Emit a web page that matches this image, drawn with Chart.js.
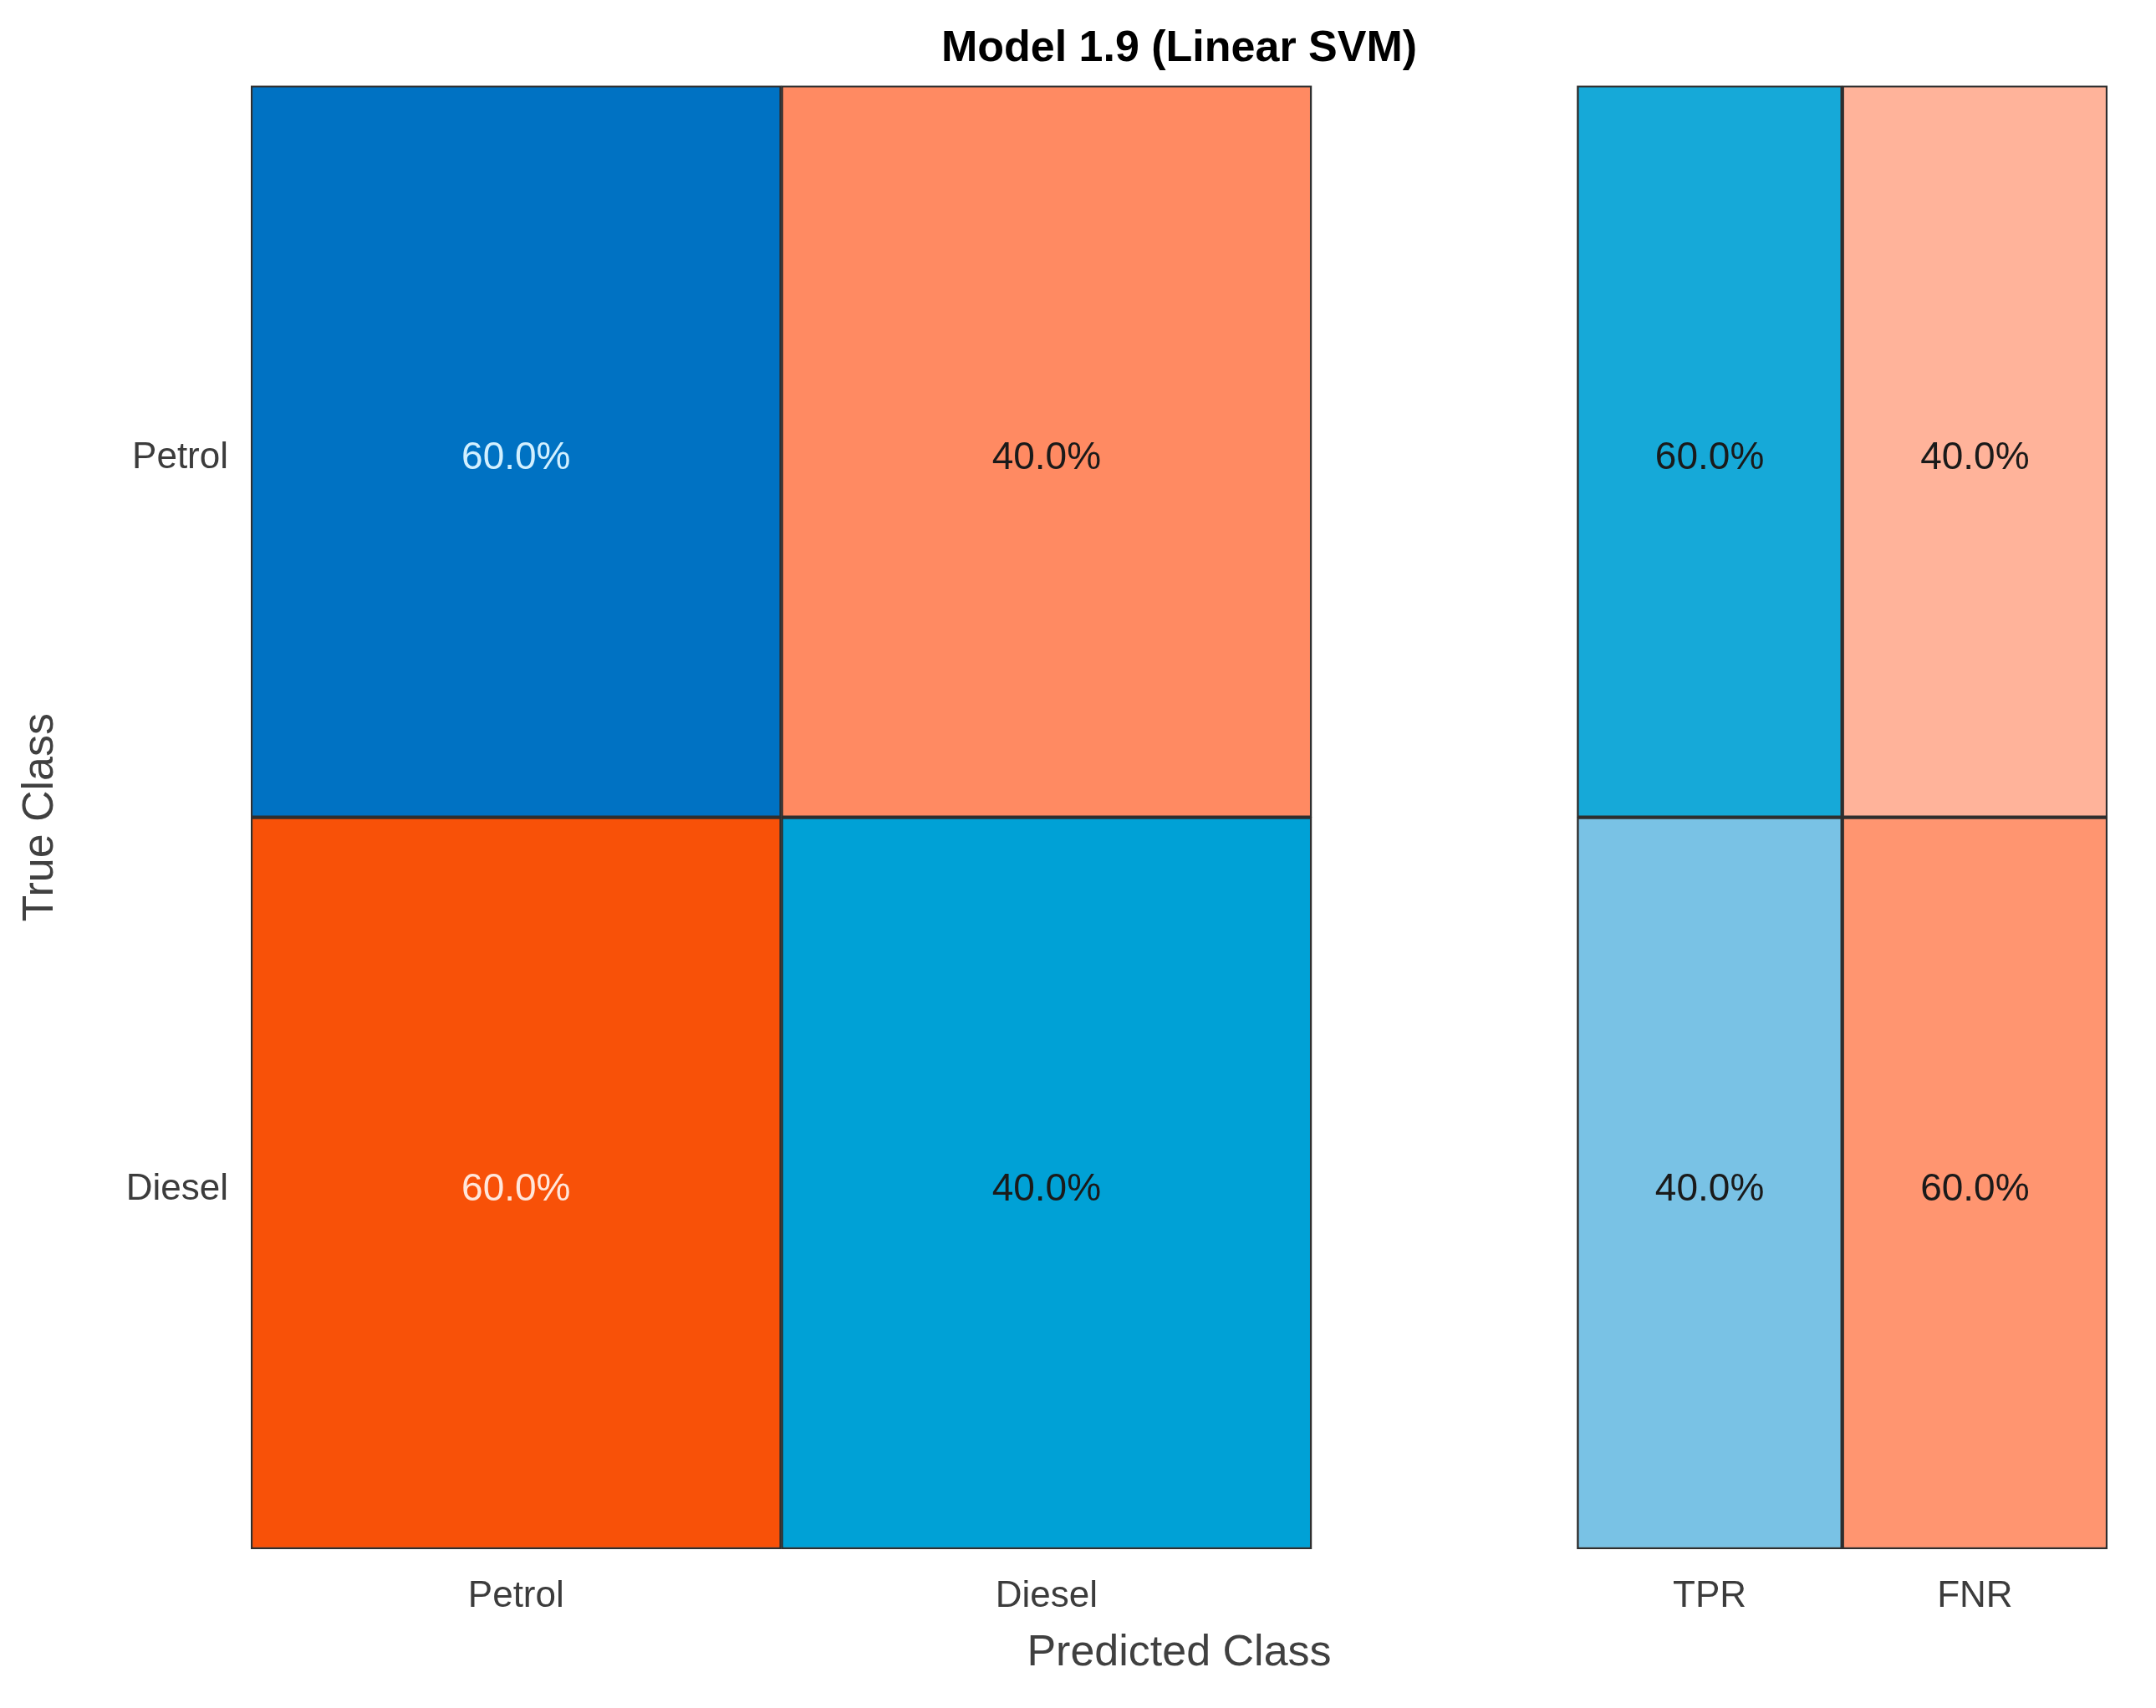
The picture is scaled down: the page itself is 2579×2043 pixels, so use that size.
<!DOCTYPE html>
<html>
<head>
<meta charset="utf-8">
<script src="https://cdn.jsdelivr.net/npm/chart.js@4.4.1/dist/chart.umd.min.js"></script>
<style>
  html, body { margin: 0; padding: 0; background: #ffffff; }
  #wrap { width: 2579px; height: 2043px; }
</style>
</head>
<body>
<div id="wrap"><canvas id="c" width="2579" height="2043"></canvas></div>
<script>
// ---------------- data ----------------
const chartTitle = 'Model 1.9 (Linear SVM)';
const trueClasses = ['Petrol', 'Diesel'];          // rows (True Class)
const predictedClasses = ['Petrol', 'Diesel'];     // columns (Predicted Class)
const summaryLabels = ['TPR', 'FNR'];              // row summary columns
// confusion values in % (row = true class, column = predicted class)
const petrolPredicted = [60.0, 60.0];   // predicted Petrol, for true Petrol / Diesel
const dieselPredicted = [40.0, 40.0];   // predicted Diesel, for true Petrol / Diesel
const tprValues = [60.0, 40.0];
const fnrValues = [40.0, 60.0];
const xAxisTitle = 'Predicted Class';
const yAxisTitle = 'True Class';

// ---------------- styles ----------------
const FONT = '"Liberation Sans", Arial, Helvetica, sans-serif';
const columnColors = [
  ['#0072C3', '#F85108'],   // predicted Petrol column (true Petrol, true Diesel)
  ['#FF8A62', '#00A1D6'],   // predicted Diesel column
  ['#16A9D8', '#79C2E5'],   // TPR column
  ['#FFB39A', '#FF9570']    // FNR column
];
const columnTextColors = [
  ['#d2f0ff', '#ffe6da'],
  ['#1a1a1a', '#1a1a1a'],
  ['#1a1a1a', '#1a1a1a'],
  ['#1a1a1a', '#1a1a1a']
];

// column extents on the x scale: main cells are 1 unit wide, summary cells 0.5 unit after a 0.5 gap
const nMain = predictedClasses.length;
function mainSpan(i) { return [i, i + 1]; }
function summarySpan(j) { return [nMain + 0.5 + 0.5 * j, nMain + 1 + 0.5 * j]; }

const columns = [
  { label: predictedClasses[0], values: petrolPredicted, span: mainSpan(0) },
  { label: predictedClasses[1], values: dieselPredicted, span: mainSpan(1) },
  { label: summaryLabels[0], values: tprValues, span: summarySpan(0) },
  { label: summaryLabels[1], values: fnrValues, span: summarySpan(1) }
];

const xTickValues = columns.map(c => (c.span[0] + c.span[1]) / 2);
const xTickLabels = columns.map(c => c.label);

const datasets = columns.map((c, ci) => ({
  label: c.label,
  data: c.values.map(() => c.span.slice()),
  pctValues: c.values,
  backgroundColor: columnColors[ci],
  borderColor: '#2e2e2e',
  borderWidth: 2.5,
  borderSkipped: false,
  grouped: false,
  categoryPercentage: 1.0,
  barPercentage: 1.0
}));

const TEXT_DROP = 8;

const cellTextPlugin = {
  id: 'cellText',
  afterDatasetsDraw(chart) {
    const ctx = chart.ctx;
    ctx.save();
    ctx.font = '46px ' + FONT;
    ctx.textAlign = 'center';
    ctx.textBaseline = 'middle';
    chart.data.datasets.forEach((ds, di) => {
      const meta = chart.getDatasetMeta(di);
      meta.data.forEach((el, ri) => {
        const p = el.getProps(['x', 'y', 'base'], true);
        const cx = (p.x + p.base) / 2;
        ctx.fillStyle = columnTextColors[di][ri];
        ctx.fillText(ds.pctValues[ri].toFixed(1) + '%', cx, p.y + TEXT_DROP);
      });
    });
    ctx.restore();
  }
};

new Chart(document.getElementById('c'), {
  type: 'bar',
  data: { labels: trueClasses, datasets: datasets },
  plugins: [cellTextPlugin],
  options: {
    indexAxis: 'y',
    responsive: false,
    animation: false,
    devicePixelRatio: 1,
    layout: { padding: { left: 0, right: 58, top: 0, bottom: 0 } },
    plugins: {
      legend: { display: false },
      tooltip: { enabled: false },
      title: {
        display: true,
        text: chartTitle,
        fullSize: false,
        color: '#000000',
        font: { family: FONT, size: 52, weight: 'bold', lineHeight: 1.2 },
        padding: { top: 27, bottom: 13 }
      }
    },
    scales: {
      x: {
        type: 'linear',
        min: 0,
        max: nMain + 1.5,
        grid: { display: false, drawTicks: false, tickLength: 0 },
        border: { display: false },
        afterBuildTicks(scale) { scale.ticks = xTickValues.map(v => ({ value: v })); },
        afterFit(scale) { scale.height = 190; },
        ticks: {
          autoSkip: false,
          maxRotation: 0,
          padding: 30,
          color: '#3c3c3c',
          font: { family: FONT, size: 44, lineHeight: 1.2 },
          callback: (v, i) => xTickLabels[i]
        },
        title: {
          display: true,
          text: xAxisTitle,
          color: '#404040',
          font: { family: FONT, size: 52, lineHeight: 1.2 },
          padding: { top: 0, bottom: 34 }
        }
      },
      y: {
        type: 'category',
        grid: { display: false, drawTicks: false, tickLength: 0 },
        border: { display: false },
        afterFit(scale) { scale.width = 300; },
        ticks: {
          padding: 27,
          labelOffset: TEXT_DROP,
          color: '#3c3c3c',
          font: { family: FONT, size: 44, lineHeight: 1.2 }
        },
        title: {
          display: true,
          text: yAxisTitle,
          color: '#404040',
          font: { family: FONT, size: 52, lineHeight: 1.2 },
          padding: { top: 17, bottom: 0 }
        }
      }
    }
  }
});
</script>
</body>
</html>
